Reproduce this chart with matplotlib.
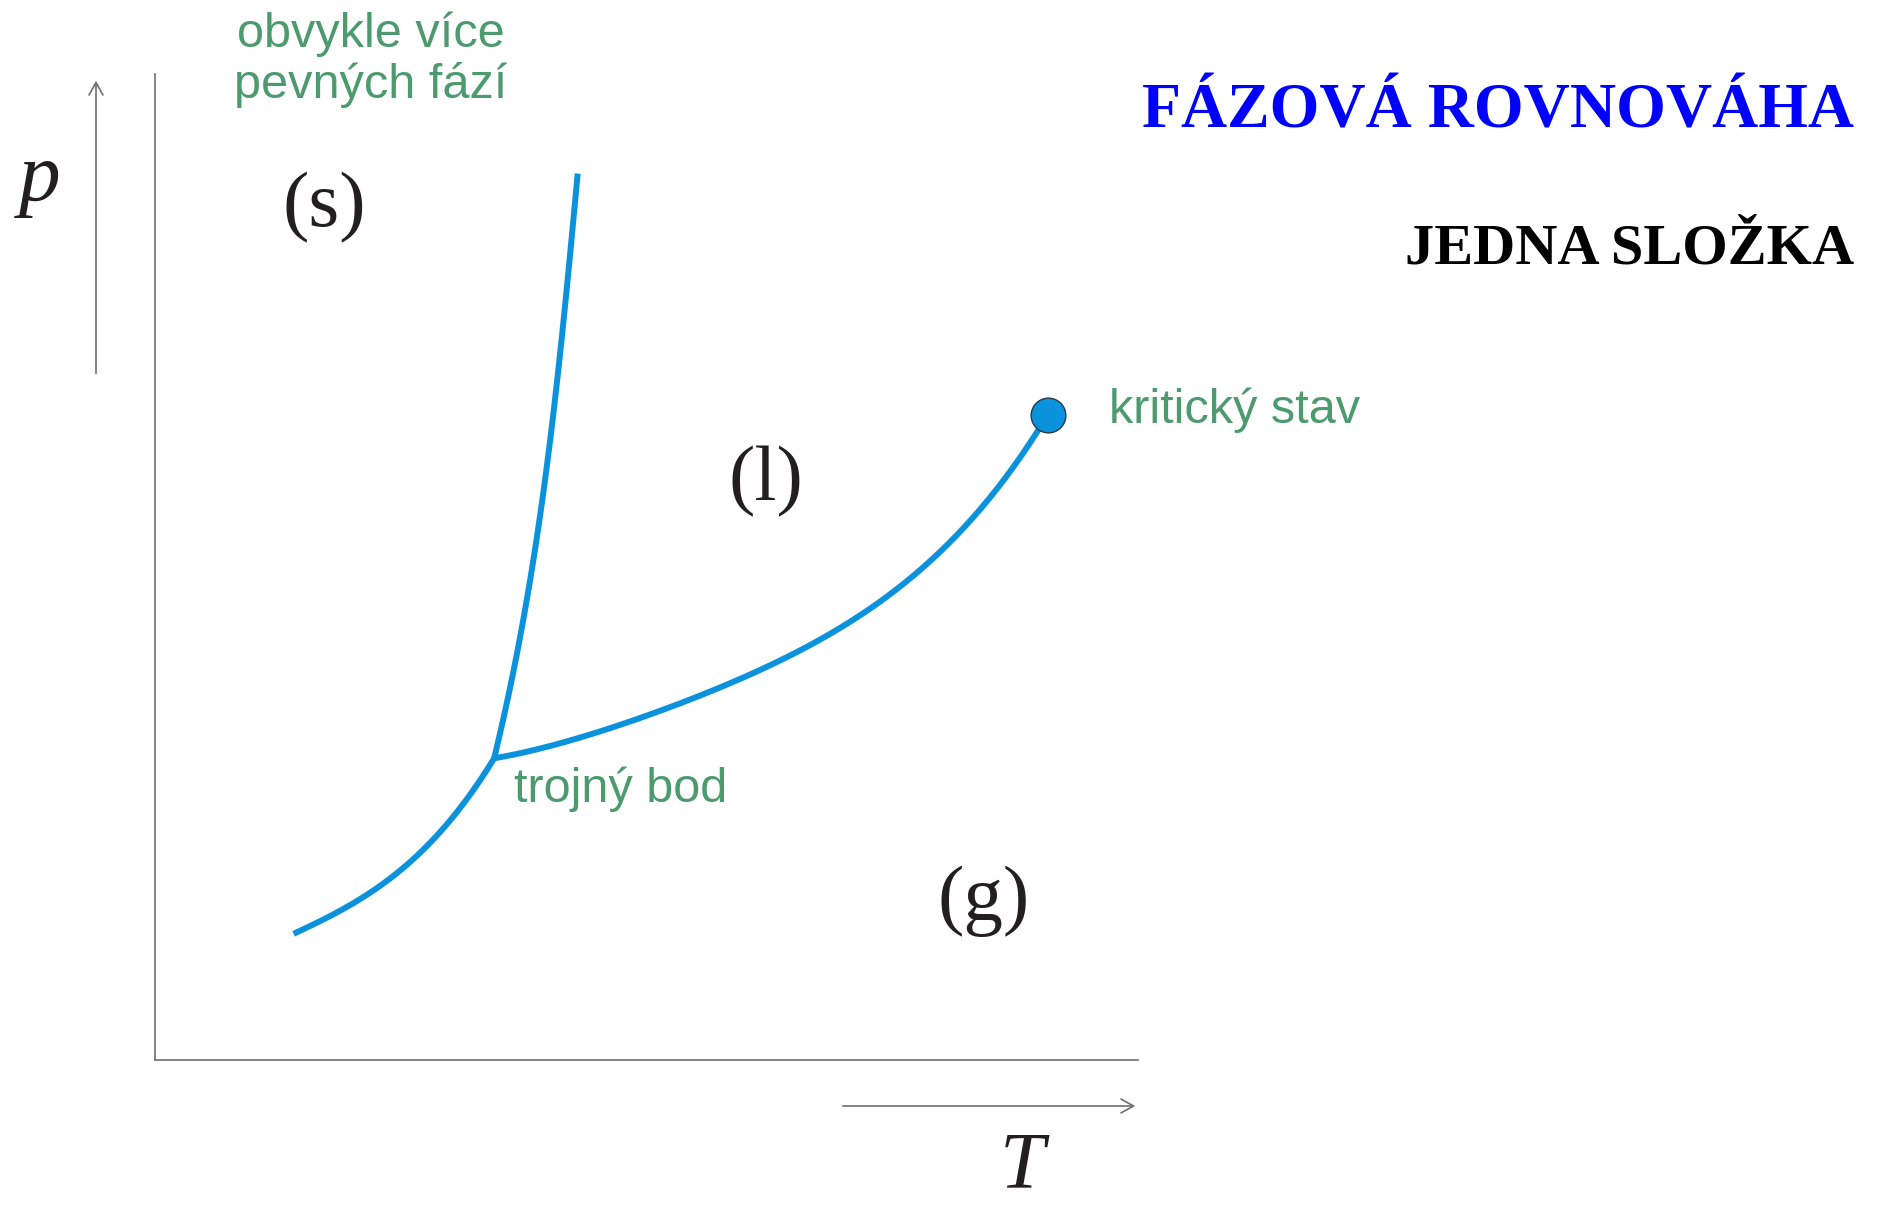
import numpy as np
import matplotlib
matplotlib.use("Agg")
import matplotlib.pyplot as plt
from matplotlib.patches import FancyArrowPatch

# ---- data (schematic T, p units, 0..100) ----
subl_T = [14.1, 17.8, 21.5, 25.1, 28.2, 31.2, 34.5]
subl_p = [12.8, 14.6, 16.7, 19.4, 22.2, 25.8, 30.6]
melt_T = [34.5, 36.1, 37.5, 38.8, 39.9, 40.8, 41.6, 42.3, 43.0]
melt_p = [30.6, 37.5, 45.4, 52.7, 60.0, 67.3, 75.9, 83.2, 89.9]
vap_T = [34.5, 41.2, 47.3, 54.4, 61.5, 67.6, 72.7, 77.3, 81.4, 84.9, 87.8, 90.8]
vap_p = [30.6, 32.3, 34.0, 36.4, 39.4, 42.6, 46.0, 49.4, 53.0, 56.8, 60.6, 65.4]
crit_T, crit_p = 90.8, 65.4

region_labels = ["(s)", "(l)", "(g)"]
region_T = [17.2, 62.2, 84.3]
region_p = [84.6, 56.8, 14.2]

title = "FÁZOVÁ ROVNOVÁHA"
subtitle = "JEDNA SLOŽKA"
note_solid = "obvykle více\npevných fází"
note_triple = "trojný bod"
note_crit = "kritický stav"

BLUE = "#0a93dc"
GREEN = "#4c9a6e"
GRAY = "#6e6e6e"


def smooth_fit(x, y, deg=3, n=200):
    """Smooth least-squares curve y(x) through the read points, pinned at both ends."""
    x = np.asarray(x, float)
    y = np.asarray(y, float)
    w = np.ones_like(x)
    w[0] = w[-1] = 50.0
    c = np.polyfit(x, y, deg, w=w)
    xs = np.linspace(x[0], x[-1], n)
    return xs, np.polyval(c, xs)


W, H = 1881, 1205
fig = plt.figure(figsize=(W / 100, H / 100), dpi=100)
fig.patch.set_facecolor("white")

ax = fig.add_axes([155 / W, (H - 1060) / H, (1138 - 155) / W, (1060 - 74) / H])
ax.set_xlim(0, 100)
ax.set_ylim(0, 100)
for s in ["top", "right"]:
    ax.spines[s].set_visible(False)
for s in ["left", "bottom"]:
    ax.spines[s].set_color(GRAY)
    ax.spines[s].set_linewidth(1.2)
ax.set_xticks([])
ax.set_yticks([])
ax.patch.set_alpha(0)

sx, sy = smooth_fit(subl_T, subl_p, 3)
ax.plot(sx, sy, color=BLUE, lw=4.3, solid_capstyle="butt", clip_on=False)
mp, mt = smooth_fit(melt_p, melt_T, 3)
ax.plot(mt, mp, color=BLUE, lw=4.3, solid_capstyle="butt", clip_on=False)
vx, vy = smooth_fit(vap_T, vap_p, 4)
ax.plot(vx, vy, color=BLUE, lw=4.3, solid_capstyle="butt", clip_on=False)

ax.plot([crit_T], [crit_p], "o", ms=25, mfc=BLUE, mec="#2a3a45", mew=1.0,
        clip_on=False, zorder=5)

serif = "Liberation Serif"
sans = "Liberation Sans"

for lab, tx, py in zip(region_labels, region_T, region_p):
    ax.text(tx, py, lab, family=serif, fontsize=57, color="#231f20",
            ha="center", va="baseline")

# arrows
style = "->,head_length=0.45,head_width=0.25"
fig.add_artist(FancyArrowPatch((96 / W, 1 - 376 / H), (96 / W, 1 - 78 / H),
                               transform=fig.transFigure, arrowstyle=style,
                               mutation_scale=20, lw=1.2, color=GRAY))
fig.add_artist(FancyArrowPatch((840 / W, 1 - 1106 / H), (1138 / W, 1 - 1106 / H),
                               transform=fig.transFigure, arrowstyle=style,
                               mutation_scale=20, lw=1.2, color=GRAY))

fig.text(40 / W, 1 - 200 / H, "p", family=serif, style="italic", fontsize=60,
         color="#231f20", ha="center", va="baseline")
fig.text(1022 / W, 1 - 1187 / H, "T", family=serif, style="italic", fontsize=58,
         color="#231f20", ha="center", va="baseline")

fig.text(1854 / W, 1 - 128 / H, title, family=serif, weight="bold", fontsize=46,
         color="#0000ff", ha="right", va="baseline")
fig.text(1854 / W, 1 - 264 / H, subtitle, family=serif, weight="bold", fontsize=42,
         color="black", ha="right", va="baseline")

l1, l2 = note_solid.split("\n")
fig.text(371 / W, 1 - 47 / H, l1, family=sans, fontsize=35, color=GREEN,
         ha="center", va="baseline")
fig.text(371 / W, 1 - 98 / H, l2, family=sans, fontsize=35, color=GREEN,
         ha="center", va="baseline")
fig.text(514 / W, 1 - 802 / H, note_triple, family=sans, fontsize=35, color=GREEN,
         ha="left", va="baseline")
fig.text(1109 / W, 1 - 423 / H, note_crit, family=sans, fontsize=35, color=GREEN,
         ha="left", va="baseline")

fig.savefig("out.png", dpi=100, facecolor="white")
